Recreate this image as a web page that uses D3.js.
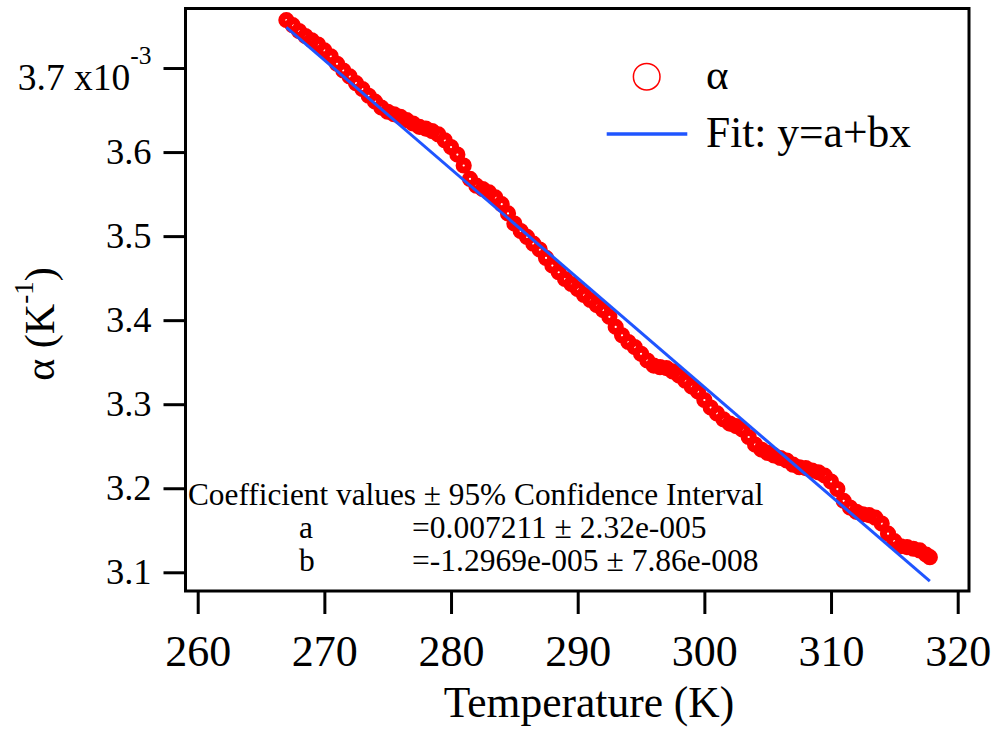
<!DOCTYPE html>
<html>
<head>
<meta charset="utf-8">
<script src="https://cdn.jsdelivr.net/npm/d3@7"></script>
<style>
  body { margin: 0; background: #fff; }
  svg { display: block; }
  text { font-family: "Liberation Serif", "Times New Roman", serif; fill: #000; }
</style>
</head>
<body>
<svg id="chart" width="995" height="729"></svg>
<script>
// Measured temperatures (K)
const temperature = [
  267.0, 267.5, 268.0, 268.5, 269.0, 269.5, 270.0, 270.5, 271.0, 271.5,
  272.0, 272.5, 273.0, 273.5, 274.0, 274.5, 275.0, 275.5, 276.0, 276.5,
  277.0, 277.5, 278.0, 278.5, 279.0, 279.5, 280.0, 280.5, 281.0, 281.5,
  282.0, 282.5, 283.0, 283.5, 284.0, 284.5, 285.0, 285.5, 286.0, 286.5,
  287.0, 287.5, 288.0, 288.5, 289.0, 289.5, 290.0, 290.5, 291.0, 291.5,
  292.0, 292.5, 293.0, 293.5, 294.0, 294.5, 295.0, 295.5, 296.0, 296.5,
  297.0, 297.5, 298.0, 298.5, 299.0, 299.5, 300.0, 300.5, 301.0, 301.5,
  302.0, 302.5, 303.0, 303.5, 304.0, 304.5, 305.0, 305.5, 306.0, 306.5,
  307.0, 307.5, 308.0, 308.5, 309.0, 309.5, 310.0, 310.5, 311.0, 311.5,
  312.0, 312.5, 313.0, 313.5, 314.0, 314.5, 315.0, 315.5, 316.0, 316.5,
  317.0, 317.5, 317.8
];

// Thermal expansion coefficient, in units of 1e-3 K^-1
const alpha = [
  3.757, 3.751, 3.744, 3.738, 3.733, 3.728, 3.721, 3.714, 3.705, 3.697,
  3.690, 3.682, 3.675, 3.667, 3.660, 3.653, 3.648, 3.645, 3.642, 3.638,
  3.634, 3.630, 3.628, 3.625, 3.621, 3.614, 3.606, 3.597, 3.584, 3.568,
  3.560, 3.556, 3.552, 3.546, 3.538, 3.527, 3.515, 3.506, 3.499, 3.491,
  3.484, 3.474, 3.465, 3.457, 3.449, 3.443, 3.437, 3.430, 3.424, 3.418,
  3.412, 3.404, 3.392, 3.382, 3.374, 3.368, 3.360, 3.352, 3.346, 3.344,
  3.343, 3.339, 3.334, 3.328, 3.321, 3.315, 3.305, 3.296, 3.289, 3.282,
  3.277, 3.274, 3.270, 3.261, 3.252, 3.246, 3.242, 3.239, 3.236, 3.233,
  3.228, 3.225, 3.224, 3.221, 3.219, 3.215, 3.208, 3.199, 3.185, 3.177,
  3.172, 3.169, 3.168, 3.165, 3.158, 3.146, 3.137, 3.131, 3.130, 3.128,
  3.126, 3.121, 3.118
];

// Linear fit y = a + b x (K^-1)
const coefNames  = ["a", "b"];
const coefValues = [0.007211, -1.2969e-5];
const coefLabels = ["=0.007211 \u00b1 2.32e-005", "=-1.2969e-005 \u00b1 7.86e-008"];
const coefHeader = "Coefficient values \u00b1 95% Confidence Interval";

const xTicks = [260, 270, 280, 290, 300, 310, 320];
const yTicks = [3.1, 3.2, 3.3, 3.4, 3.5, 3.6, 3.7];
const yUnit = 1e-3;

const svg = d3.select("#chart");
const plotL = 185.5, plotR = 969, plotT = 8.5, plotB = 591;

const x = d3.scaleLinear().domain([259.037, 320.892]).range([plotL, plotR]);
const y = d3.scaleLinear().domain([3.07774, 3.77083]).range([plotB, plotT]);

const points = temperature.map((t, i) => ({ t, v: alpha[i] }));

// data markers: heavy open rings, overlapping into a continuous trace
svg.append("g")
  .selectAll("circle")
  .data(points)
  .join("circle")
  .attr("cx", d => x(d.t))
  .attr("cy", d => y(d.v))
  .attr("r", 4.6)
  .attr("fill", "none")
  .attr("stroke", "#ff0000")
  .attr("stroke-width", 7);

// fitted line across the measured range
const [a, b] = coefValues;
const tExt = d3.extent(temperature);
svg.append("path")
  .datum(tExt)
  .attr("d", d3.line().x(t => x(t)).y(t => y((a + b * t) / yUnit)))
  .attr("fill", "none")
  .attr("stroke", "#1f55ff")
  .attr("stroke-width", 3);

// frame
svg.append("rect")
  .attr("x", plotL).attr("y", plotT)
  .attr("width", plotR - plotL).attr("height", plotB - plotT)
  .attr("fill", "none").attr("stroke", "#000").attr("stroke-width", 3);

// y axis
const yAxis = svg.append("g")
  .attr("transform", `translate(${plotL},0)`)
  .call(d3.axisLeft(y).tickValues(yTicks).tickSize(22).tickPadding(12)
    .tickFormat(d3.format(".1f")));
yAxis.select(".domain").remove();
yAxis.selectAll(".tick line").attr("stroke", "#000").attr("stroke-width", 3);
yAxis.selectAll(".tick text")
  .style("font-family", "'Liberation Serif', serif")
  .attr("font-size", 36.5).attr("fill", "#000");
const topTick = yAxis.selectAll(".tick text").filter(d => d === 3.7);
topTick.text(null).attr("dy", "0.57em").attr("font-size", 37.5);
topTick.append("tspan").text("3.7 x10");
topTick.append("tspan").attr("font-size", 25.5).attr("dy", -26).text("-3");

// x axis
const xAxis = svg.append("g")
  .attr("transform", `translate(0,${plotB})`)
  .call(d3.axisBottom(x).tickValues(xTicks).tickSize(23).tickPadding(21)
    .tickFormat(d3.format("d")));
xAxis.select(".domain").remove();
xAxis.selectAll(".tick line").attr("stroke", "#000").attr("stroke-width", 3);
xAxis.selectAll(".tick text")
  .style("font-family", "'Liberation Serif', serif")
  .attr("font-size", 44).attr("fill", "#000");

// axis titles
svg.append("text")
  .attr("x", 589).attr("y", 717)
  .attr("text-anchor", "middle")
  .attr("font-size", 43.5)
  .text("Temperature (K)");

const yTitle = svg.append("text")
  .attr("transform", "translate(54,324) rotate(-90)")
  .attr("text-anchor", "middle")
  .attr("font-size", 42);
yTitle.append("tspan").text("\u03b1 (K");
yTitle.append("tspan").attr("font-size", 27).attr("dy", -21).text("-1");
yTitle.append("tspan").attr("dy", 21).text(")");

// legend
const legend = svg.append("g");
legend.append("circle")
  .attr("cx", 646.7).attr("cy", 76.7).attr("r", 13.3)
  .attr("fill", "none").attr("stroke", "#ff0000").attr("stroke-width", 1.5);
legend.append("text").attr("x", 706).attr("y", 89).attr("font-size", 43).text("\u03b1");
legend.append("line")
  .attr("x1", 606.7).attr("x2", 687.3).attr("y1", 134).attr("y2", 134)
  .attr("stroke", "#1f55ff").attr("stroke-width", 3.5);
legend.append("text").attr("x", 706).attr("y", 147).attr("font-size", 43.5).text("Fit: y=a+bx");

// fit coefficient report
const report = svg.append("g");
report.append("text").attr("x", 188).attr("y", 505).attr("font-size", 31.3).text(coefHeader);
coefNames.forEach((name, i) => {
  report.append("text").attr("x", 299).attr("y", 538 + i * 33).attr("font-size", 31.5).text(name);
  report.append("text").attr("x", 412).attr("y", 538 + i * 33).attr("font-size", 31.5).text(coefLabels[i]);
});
</script>
</body>
</html>
